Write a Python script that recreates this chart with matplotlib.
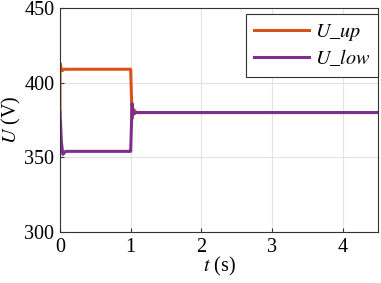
import matplotlib
import matplotlib.pyplot as plt
matplotlib.use("agg")

# breakpoints
t_up = [0.0, 0.0, 0.01, 0.03, 0.06, 0.99, 1.0, 1.02, 1.04, 1.08, 4.5]
u_up = [380, 413, 411, 408, 409, 409, 409, 376, 382, 380, 380]
t_low = [0.0, 0.0, 0.02, 0.04, 0.08, 0.99, 1.0, 1.02, 1.04, 1.08, 4.5]
u_low = [380, 380, 360, 352, 354, 354, 354, 386, 379, 380, 380]

plt.rcParams["font.family"] = ["Liberation Serif", "DejaVu Serif"]
plt.rcParams["mathtext.fontset"] = "stix"

fig = plt.figure(figsize=(3.81, 2.83), dpi=100)
ax = fig.add_axes([60 / 381, 1 - 232 / 283, 318 / 381, 224 / 283])
ax.plot(t_up, u_up, color="#D95319", lw=2.2, label="$U\\_up$")
ax.plot(t_low, u_low, color="#7E2F8E", lw=2.2, label="$U\\_low$")

ax.set_xlim(0, 4.5)
ax.set_ylim(300, 450)
ax.set_xticks([0, 1, 2, 3, 4])
ax.set_yticks([300, 350, 400, 450])
ax.grid(True, color="#e3e3e3", lw=0.8)
ax.tick_params(direction="in", labelsize=14.5, length=3, color="#333333", pad=4)
for s in ax.spines.values():
    s.set_color("#333333")
    s.set_linewidth(0.8)
ax.set_xlabel("$t$ (s)", fontsize=14.5, labelpad=-1)
ax.set_ylabel("$U$ (V)", fontsize=14.5, labelpad=1)
leg = ax.legend(loc="upper right", bbox_to_anchor=(1.0, 0.973), fontsize=14.5,
                fancybox=False, framealpha=1, edgecolor="#333333",
                handlelength=2.7, borderaxespad=0.0, handletextpad=0.3,
                labelspacing=0.25, borderpad=0.4)
leg.get_frame().set_linewidth(0.8)
plt.savefig("out.png", dpi=100)
